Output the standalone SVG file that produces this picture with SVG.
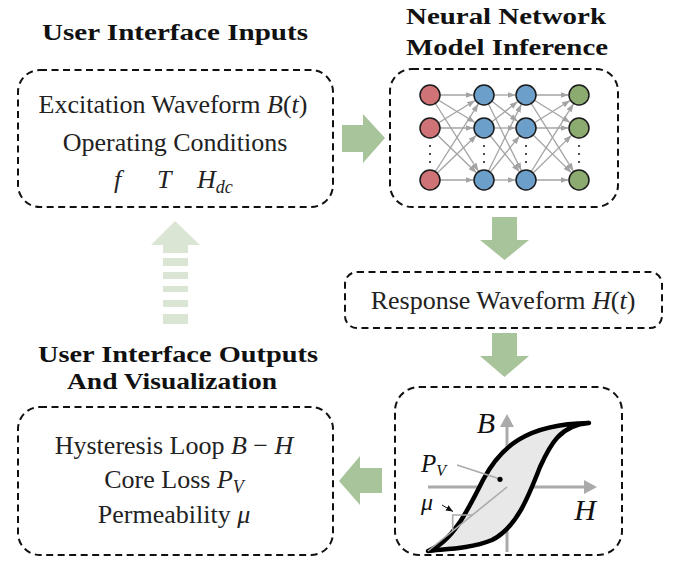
<svg xmlns="http://www.w3.org/2000/svg" width="678" height="576" viewBox="0 0 678 576">
<style>
.box{fill:none;stroke:#111;stroke-width:2;stroke-dasharray:7 4.5}
.t{font-family:"Liberation Serif","DejaVu Serif",serif;font-size:26px;fill:#222;text-anchor:middle}
.ts{font-family:"Liberation Serif","DejaVu Serif",serif;font-size:26px;fill:#222;font-style:italic}
.ti{font-family:"Liberation Serif","DejaVu Serif",serif;font-size:23px;font-weight:bold;fill:#111}
.m{font-style:italic}
.arr{fill:#a8c49b}
.arrl{fill:#dbe5d3}
.e{stroke:#a3a3a3;stroke-width:1.3;marker-end:url(#ah)}
.nr{fill:#d07376;stroke:#1a1a1a;stroke-width:1.5}
.nb{fill:#6c9fca;stroke:#1a1a1a;stroke-width:1.5}
.ng{fill:#8bab70;stroke:#1a1a1a;stroke-width:1.5}
.dot{fill:#222}
.ax{stroke:#aaaaaa;stroke-width:3}
</style>
<defs>
<marker id="ah" markerUnits="userSpaceOnUse" markerWidth="8" markerHeight="6" refX="8" refY="3" orient="auto"><path d="M0,0 L8,3 L0,6 z" fill="#a3a3a3"/></marker>
<marker id="mu" markerUnits="userSpaceOnUse" markerWidth="7" markerHeight="6" refX="7" refY="3" orient="auto"><path d="M0,0 L7,3 L0,6 z" fill="#111"/></marker>
</defs>

<g id="title-inputs"><text class="ti" x="42" y="40" textLength="266" lengthAdjust="spacingAndGlyphs">User Interface Inputs</text></g>
<g id="title-nn"><text class="ti" x="406" y="24" textLength="200" lengthAdjust="spacingAndGlyphs">Neural Network</text><text class="ti" x="406" y="55" textLength="202" lengthAdjust="spacingAndGlyphs">Model Inference</text></g>
<g id="title-outputs"><text class="ti" x="38" y="362" textLength="280" lengthAdjust="spacingAndGlyphs">User Interface Outputs</text><text class="ti" x="67" y="389" textLength="210" lengthAdjust="spacingAndGlyphs">And Visualization</text></g>

<g id="inputs">
<rect class="box" x="18" y="70" width="315" height="137" rx="22"/>
<text class="t" x="173" y="113">Excitation Waveform <tspan class="m">B</tspan>(<tspan class="m">t</tspan>)</text>
<text class="t" x="175" y="151">Operating Conditions</text>
<text class="ts" x="114" y="188">f</text>
<text class="ts" x="157" y="188">T</text>
<text class="ts" x="197" y="188">H<tspan font-size="18" dy="5">dc</tspan></text>
</g>

<g id="nn">
<rect class="box" x="390" y="69" width="228" height="138" rx="22"/>
<g id="nn-edges">
<line class="e" x1="430" y1="95" x2="473.5" y2="95"/>
<line class="e" x1="430" y1="95" x2="475.04" y2="122.53"/>
<line class="e" x1="430" y1="95" x2="478.37" y2="171.14"/>
<line class="e" x1="430" y1="128" x2="475.04" y2="100.47"/>
<line class="e" x1="430" y1="128" x2="473.5" y2="128"/>
<line class="e" x1="430" y1="128" x2="476.44" y2="172.72"/>
<line class="e" x1="430" y1="180" x2="478.37" y2="103.86"/>
<line class="e" x1="430" y1="180" x2="476.44" y2="135.28"/>
<line class="e" x1="430" y1="180" x2="473.5" y2="180"/>
<line class="e" x1="484" y1="95" x2="515.5" y2="95"/>
<line class="e" x1="484" y1="95" x2="517.74" y2="121.51"/>
<line class="e" x1="484" y1="95" x2="521.35" y2="170.59"/>
<line class="e" x1="484" y1="128" x2="517.74" y2="101.49"/>
<line class="e" x1="484" y1="128" x2="515.5" y2="128"/>
<line class="e" x1="484" y1="128" x2="519.4" y2="171.83"/>
<line class="e" x1="484" y1="180" x2="521.35" y2="104.41"/>
<line class="e" x1="484" y1="180" x2="519.4" y2="136.17"/>
<line class="e" x1="484" y1="180" x2="515.5" y2="180"/>
<line class="e" x1="526" y1="95" x2="568.5" y2="95"/>
<line class="e" x1="526" y1="95" x2="570.09" y2="122.45"/>
<line class="e" x1="526" y1="95" x2="573.44" y2="171.09"/>
<line class="e" x1="526" y1="128" x2="570.09" y2="100.55"/>
<line class="e" x1="526" y1="128" x2="568.5" y2="128"/>
<line class="e" x1="526" y1="128" x2="571.5" y2="172.65"/>
<line class="e" x1="526" y1="180" x2="573.44" y2="103.91"/>
<line class="e" x1="526" y1="180" x2="571.5" y2="135.35"/>
<line class="e" x1="526" y1="180" x2="568.5" y2="180"/>
</g>
<circle class="nr" cx="430" cy="95" r="10"/><circle class="nr" cx="430" cy="128" r="10"/><circle class="nr" cx="430" cy="180" r="10"/>
<circle class="nb" cx="484" cy="95" r="10"/><circle class="nb" cx="484" cy="128" r="10"/><circle class="nb" cx="484" cy="180" r="10"/>
<circle class="nb" cx="526" cy="95" r="10"/><circle class="nb" cx="526" cy="128" r="10"/><circle class="nb" cx="526" cy="180" r="10"/>
<circle class="ng" cx="579" cy="95" r="10"/><circle class="ng" cx="579" cy="128" r="10"/><circle class="ng" cx="579" cy="180" r="10"/>
<g class="dot">
<circle cx="430" cy="146" r="1.1"/><circle cx="430" cy="154" r="1.1"/><circle cx="430" cy="162" r="1.1"/>
<circle cx="484" cy="146" r="1.1"/><circle cx="484" cy="154" r="1.1"/><circle cx="484" cy="162" r="1.1"/>
<circle cx="526" cy="146" r="1.1"/><circle cx="526" cy="154" r="1.1"/><circle cx="526" cy="162" r="1.1"/>
<circle cx="579" cy="146" r="1.1"/><circle cx="579" cy="154" r="1.1"/><circle cx="579" cy="162" r="1.1"/>
</g>
</g>

<g id="response">
<rect class="box" x="345" y="272" width="317" height="56" rx="12"/>
<text class="t" x="503" y="309" font-size="26.5">Response Waveform <tspan class="m">H</tspan>(<tspan class="m">t</tspan>)</text>
</g>

<g id="hysteresis">
<rect class="box" x="395" y="387" width="227" height="168" rx="24"/>
<line class="ax" x1="507" y1="552" x2="507" y2="425"/>
<path d="M507,414 L500,427 L514,427 z" fill="#aaaaaa"/>
<line class="ax" x1="428" y1="487" x2="585" y2="487"/>
<path d="M597,487 L584,480 L584,494 z" fill="#aaaaaa"/>
<path d="M428,551 C452,542 467,512 483,480 C500,448 525,424 589,423 C560,425 550,445 540,467 C528,498 516,528 492,540 C470,549 445,549 428,551 Z" fill="#e8e8e8" stroke="#000" stroke-width="4.5" stroke-linejoin="round"/>
<line x1="428" y1="551" x2="507" y2="487" stroke="#aaaaaa" stroke-width="1.6"/>
<polyline points="452.7,531 452.7,515 472.4,515" fill="none" stroke="#aaaaaa" stroke-width="1.6"/>
<line x1="457" y1="465" x2="500" y2="479" stroke="#aaaaaa" stroke-width="1.6"/>
<circle cx="500" cy="479.3" r="2.6" fill="#000"/>
<line x1="442" y1="505" x2="453" y2="511.5" stroke="#111" stroke-width="1" marker-end="url(#mu)"/>
<text x="486" y="433" font-family="Liberation Serif,serif" font-style="italic" font-size="30" fill="#111" text-anchor="middle">B</text>
<text x="585" y="520" font-family="Liberation Serif,serif" font-style="italic" font-size="30" fill="#111" text-anchor="middle">H</text>
<text x="421" y="472" font-family="Liberation Serif,serif" font-style="italic" font-size="25" fill="#111">P<tspan font-size="16" dy="4">V</tspan></text>
<text x="421" y="510" font-family="Liberation Serif,serif" font-style="italic" font-size="24" fill="#111">μ</text>
</g>

<g id="outputs">
<rect class="box" x="18" y="407" width="315" height="148" rx="22"/>
<text class="t" x="174" y="454">Hysteresis Loop <tspan class="m">B</tspan> − <tspan class="m">H</tspan></text>
<text class="t" x="174" y="488">Core Loss <tspan class="m">P</tspan><tspan class="m" font-size="18" dy="5">V</tspan></text>
<text class="t" x="174" y="523">Permeability <tspan class="m">μ</tspan></text>
</g>

<g id="connectors">
<path class="arr" d="M342,125 L363,125 L363,114 L385,138 L363,163 L363,152 L342,152 z"/>
<path class="arr" d="M492,217 L517,217 L517,240 L529,240 L504.5,260 L480,240 L492,240 z"/>
<path class="arr" d="M492,333 L517,333 L517,356 L529,356 L504.5,377 L480,356 L492,356 z"/>
<path class="arr" d="M382,468 L360,468 L360,456 L339,481 L360,505 L360,493 L382,493 z"/>
<g class="arrl">
<path d="M175,221 L200,245 L188,245 L188,253 L163,253 L163,245 L151,245 z"/>
<rect x="163" y="258" width="25" height="8"/>
<rect x="163" y="272" width="25" height="7"/>
<rect x="163" y="286" width="25" height="6"/>
<rect x="163" y="300" width="25" height="7"/>
<rect x="163" y="314" width="25" height="10"/>
</g>
</g>
</svg>
